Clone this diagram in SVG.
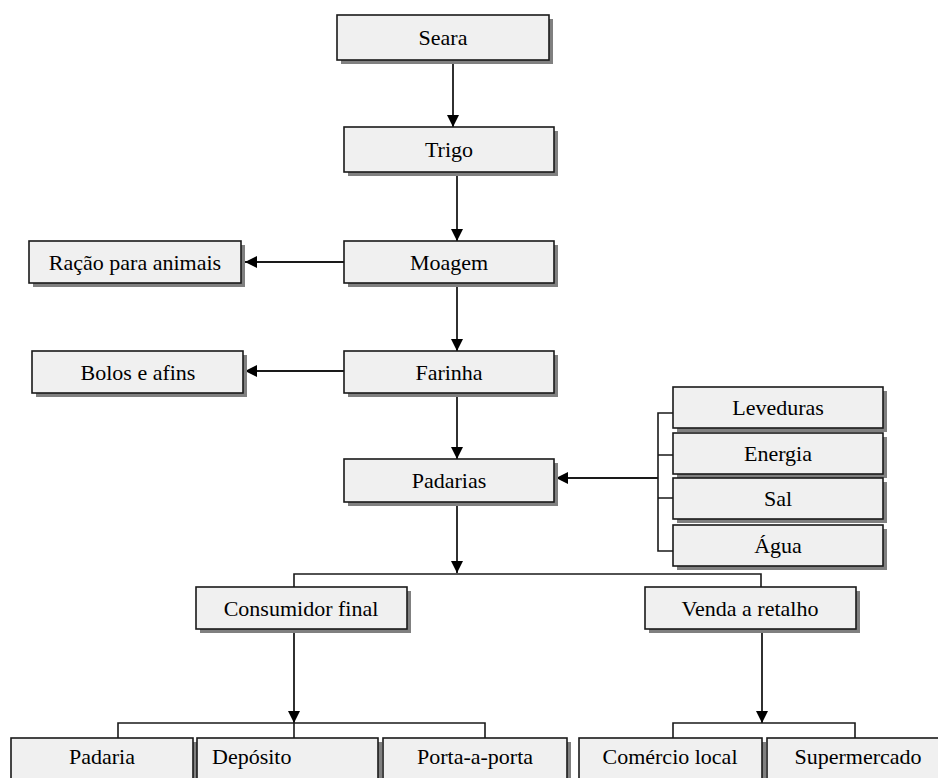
<svg xmlns="http://www.w3.org/2000/svg" width="938" height="778" viewBox="0 0 938 778">
<style>
.sh{fill:#808080;stroke:none}
.bx{fill:#f0f0f0;stroke:#1a1a1a;stroke-width:1.6}
.t{font-size:22px;fill:#000;text-anchor:middle}
.tl{text-anchor:start}
.ln{fill:none;stroke:#1a1a1a;stroke-width:1.6}
.ar{fill:none;stroke:#1a1a1a;stroke-width:1.8;marker-end:url(#ah)}
</style>
<defs>
<marker id="ah" markerUnits="userSpaceOnUse" markerWidth="12" markerHeight="12" viewBox="0 0 12 12" refX="12" refY="6" orient="auto">
<path d="M0,0 L12,6 L0,12 Z" fill="#000"/>
</marker>
</defs>
<rect width="938" height="778" fill="#fff"/>
<g id="connectors">
<line class="ar" x1="453" y1="60" x2="453" y2="127"/>
<line class="ar" x1="457" y1="172" x2="457" y2="241"/>
<line class="ar" x1="457" y1="283" x2="457" y2="351"/>
<line class="ar" x1="457" y1="393" x2="457" y2="459"/>
<line class="ar" x1="344" y1="262" x2="245" y2="262"/>
<line class="ar" x1="344" y1="371" x2="245" y2="371"/>
<line class="ar" x1="658" y1="478" x2="556" y2="478"/>
<path class="ln" d="M673,413 H658 V551 H673 M658,455 H673 M658,498 H673"/>
<line class="ar" x1="457" y1="502" x2="457" y2="573"/>
<path class="ln" d="M294,587 V574 H761 V587"/>
<line class="ar" x1="294" y1="629" x2="294" y2="723"/>
<path class="ln" d="M118,738 V723 H485 V738 M294,723 V738"/>
<line class="ar" x1="762" y1="629" x2="762" y2="723"/>
<path class="ln" d="M673,738 V723 H855 V738"/>
</g>
<g font-family="Liberation Serif, Times New Roman, serif">
<g id="seara"><rect class="sh" x="341" y="19" width="212" height="45"/><rect class="bx" x="337" y="15" width="212" height="45"/><text class="t" x="443" y="45">Seara</text></g>
<g id="trigo"><rect class="sh" x="348" y="131" width="210" height="45"/><rect class="bx" x="344" y="127" width="210" height="45"/><text class="t" x="449" y="157">Trigo</text></g>
<g id="moagem"><rect class="sh" x="348" y="245" width="210" height="42"/><rect class="bx" x="344" y="241" width="210" height="42"/><text class="t" x="449" y="270">Moagem</text></g>
<g id="racao"><rect class="sh" x="33" y="245" width="212" height="42"/><rect class="bx" x="29" y="241" width="212" height="42"/><text class="t" x="135" y="270">Ração para animais</text></g>
<g id="farinha"><rect class="sh" x="348" y="355" width="210" height="42"/><rect class="bx" x="344" y="351" width="210" height="42"/><text class="t" x="449" y="380">Farinha</text></g>
<g id="bolos"><rect class="sh" x="36" y="355" width="211" height="42"/><rect class="bx" x="32" y="351" width="211" height="42"/><text class="t" x="138" y="380">Bolos e afins</text></g>
<g id="padarias"><rect class="sh" x="348" y="463" width="210" height="43"/><rect class="bx" x="344" y="459" width="210" height="43"/><text class="t" x="449" y="488">Padarias</text></g>
<g id="leveduras"><rect class="sh" x="677" y="391" width="210" height="41"/><rect class="bx" x="673" y="387" width="210" height="41"/><text class="t" x="778" y="415">Leveduras</text></g>
<g id="energia"><rect class="sh" x="677" y="437" width="210" height="41"/><rect class="bx" x="673" y="433" width="210" height="41"/><text class="t" x="778" y="461">Energia</text></g>
<g id="sal"><rect class="sh" x="677" y="482" width="210" height="41"/><rect class="bx" x="673" y="478" width="210" height="41"/><text class="t" x="778" y="506">Sal</text></g>
<g id="agua"><rect class="sh" x="677" y="529" width="210" height="41"/><rect class="bx" x="673" y="525" width="210" height="41"/><text class="t" x="778" y="553">Água</text></g>
<g id="consumidor"><rect class="sh" x="200" y="591" width="211" height="42"/><rect class="bx" x="196" y="587" width="211" height="42"/><text class="t" x="301" y="616">Consumidor final</text></g>
<g id="venda"><rect class="sh" x="649" y="591" width="211" height="42"/><rect class="bx" x="645" y="587" width="211" height="42"/><text class="t" x="750" y="616">Venda a retalho</text></g>
<g id="padaria"><rect class="sh" x="15" y="742" width="182" height="50"/><rect class="bx" x="11" y="738" width="182" height="50"/><text class="t" x="102" y="764">Padaria</text></g>
<g id="deposito"><rect class="sh" x="201" y="742" width="181" height="50"/><rect class="bx" x="197" y="738" width="181" height="50"/><text class="t tl" x="212" y="764">Depósito</text></g>
<g id="porta"><rect class="sh" x="387" y="742" width="184" height="50"/><rect class="bx" x="383" y="738" width="184" height="50"/><text class="t" x="475" y="764">Porta-a-porta</text></g>
<g id="comercio"><rect class="sh" x="583" y="742" width="183" height="50"/><rect class="bx" x="579" y="738" width="183" height="50"/><text class="t" x="670" y="764">Comércio local</text></g>
<g id="supermercado"><rect class="sh" x="771" y="742" width="180" height="50"/><rect class="bx" x="767" y="738" width="180" height="50"/><text class="t" x="858" y="764">Supermercado</text></g>
</g>
</svg>
